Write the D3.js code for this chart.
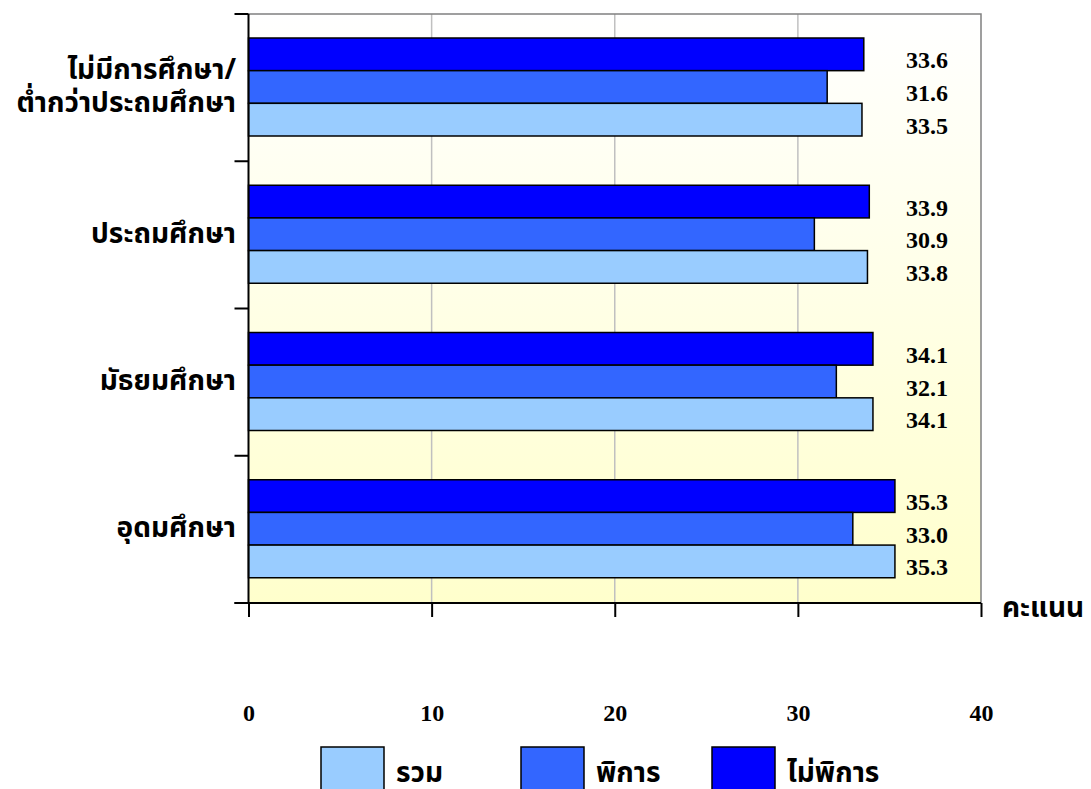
<!DOCTYPE html>
<html><head><meta charset="utf-8">
<script src="https://cdn.jsdelivr.net/npm/d3@7"></script>
<style>body{margin:0;background:#fff}</style>
</head><body>
<svg id="chart" width="1091" height="789"></svg>
<script>
const categories = ["ไม่มีการศึกษา/|ต่ำกว่าประถมศึกษา", "ประถมศึกษา", "มัธยมศึกษา", "อุดมศึกษา"];
const seriesNames = ["รวม", "พิการ", "ไม่พิการ"];
const totalValues = [33.5, 33.8, 34.1, 35.3];
const disabledValues = [31.6, 30.9, 32.1, 33.0];
const nonDisabledValues = [33.6, 33.9, 34.1, 35.3];
const xTicks = [0, 10, 20, 30, 40];
const xAxisTitle = "คะแนน";

const colors = {"รวม": "#99CCFF", "พิการ": "#3366FF", "ไม่พิการ": "#0000FF"};
const seriesValues = {"รวม": totalValues, "พิการ": disabledValues, "ไม่พิการ": nonDisabledValues};
const barOrder = ["ไม่พิการ", "พิการ", "รวม"]; // top to bottom within a group

const thaiFont = "'Noto Sans Thai','Noto Sans','DejaVu Sans',sans-serif";
const serifFont = "'Liberation Serif','Times New Roman',serif";

const svg = d3.select("#chart");
const L = 248.5, R = 981, T = 14, B = 603;

const x = d3.scaleLinear().domain([0, 40]).range([L, R]);
const y = d3.scaleBand().domain(categories).range([T, B]);
const yInner = d3.scaleBand().domain(barOrder).range([24, 24 + 98]);

// background gradient
const defs = svg.append("defs");
const grad = defs.append("linearGradient").attr("id", "bg").attr("x1", 0).attr("y1", 0).attr("x2", 0).attr("y2", 1);
grad.append("stop").attr("offset", "0%").attr("stop-color", "#FFFFFF");
grad.append("stop").attr("offset", "100%").attr("stop-color", "#FFFFCC");
svg.append("rect").attr("x", L).attr("y", T).attr("width", R - L).attr("height", B - T).attr("fill", "url(#bg)");

// gridlines
svg.append("g").selectAll("line").data(xTicks.slice(1, -1)).join("line")
  .attr("x1", d => x(d)).attr("x2", d => x(d)).attr("y1", T).attr("y2", B)
  .attr("stroke", "#C0C0C0").attr("stroke-width", 1.5);

// frame top/right grey
svg.append("path").attr("d", `M${L},${T}H${R}V${B}`).attr("fill", "none").attr("stroke", "#808080").attr("stroke-width", 1.5);

// bars
categories.forEach((c, i) => {
  const g = svg.append("g").attr("transform", `translate(0,${y(c)})`);
  g.selectAll("rect").data(barOrder).join("rect")
    .attr("x", x(0)).attr("y", s => yInner(s))
    .attr("width", s => x(seriesValues[s][i]) - x(0))
    .attr("height", yInner.bandwidth())
    .attr("fill", s => colors[s]).attr("stroke", "#000").attr("stroke-width", 1.5);
  g.selectAll("text").data(barOrder).join("text")
    .attr("x", 906).attr("y", s => yInner(s) + yInner.bandwidth() / 2 + 14)
    .attr("font-family", serifFont).attr("font-weight", "bold").attr("font-size", 24)
    .attr("fill", "#000")
    .text(s => seriesValues[s][i].toFixed(1));
});

// y axis (left) with ticks between categories
const yTickPos = categories.map(c => y(c)).concat([B]);
svg.append("line").attr("x1", L).attr("x2", L).attr("y1", T).attr("y2", B).attr("stroke", "#000").attr("stroke-width", 2);
svg.append("g").selectAll("line").data(yTickPos).join("line")
  .attr("x1", L - 14).attr("x2", L).attr("y1", d => d).attr("y2", d => d)
  .attr("stroke", "#000").attr("stroke-width", 2);

// x axis
const xAxis = d3.axisBottom(x).tickValues(xTicks).tickSize(14).tickFormat(d3.format("d"));
const xa = svg.append("g").attr("transform", `translate(0,${B})`).call(xAxis);
xa.select(".domain").attr("stroke", "#000").attr("stroke-width", 2).attr("d", `M${L - 14},0H${R}`);
xa.selectAll(".tick line").attr("stroke", "#000").attr("stroke-width", 2);
xa.selectAll(".tick text").attr("y", 118).attr("dy", 0)
  .attr("font-family", serifFont).attr("font-weight", "bold").attr("font-size", 24).attr("fill", "#000");

// x title
svg.append("text").attr("x", 1002).attr("y", 617)
  .attr("font-family", thaiFont).attr("font-weight", "bold").attr("font-size", 28).attr("fill", "#000")
  .text(xAxisTitle);

// category labels
categories.forEach(c => {
  const lines = c.split("|");
  const cy = y(c) + y.bandwidth() / 2;
  const lh = 33;
  const t = svg.append("text").attr("text-anchor", "end")
    .attr("font-family", thaiFont).attr("font-weight", "bold").attr("font-size", 28).attr("fill", "#000");
  lines.forEach((ln, k) => {
    t.append("tspan").attr("x", 236).attr("y", cy + 8 + (k - (lines.length - 1) / 2) * lh).text(ln);
  });
});

// legend
const legendX = [321, 521, 712];
const lg = svg.append("g");
seriesNames.forEach((s, i) => {
  lg.append("rect").attr("x", legendX[i]).attr("y", 747).attr("width", 63).attr("height", 50)
    .attr("fill", colors[s]).attr("stroke", "#000").attr("stroke-width", 1.5);
  lg.append("text").attr("x", legendX[i] + 75).attr("y", 782)
    .attr("font-family", thaiFont).attr("font-weight", "bold").attr("font-size", 28).attr("fill", "#000")
    .text(s);
});
</script>
</body></html>
